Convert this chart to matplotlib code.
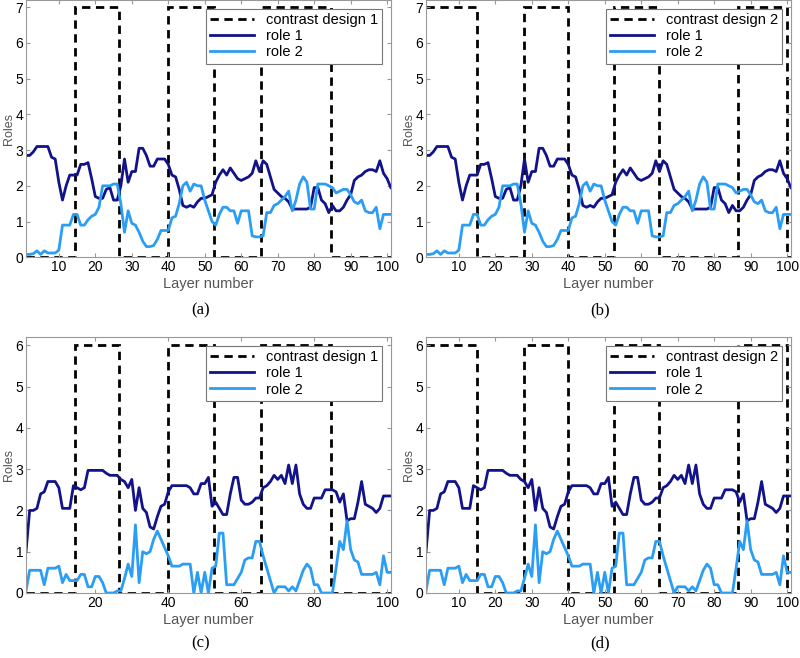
import numpy as np
import matplotlib.pyplot as plt

plt.rcParams['font.family'] = ['Liberation Sans', 'DejaVu Sans']

layers = np.arange(1, 102)

# role curves, top panels (a) and (b)
role1_top = [2.85, 2.85, 2.95, 3.1, 3.1, 3.1, 3.1, 2.8, 2.75, 2.1,
             1.6, 2.0, 2.3, 2.3, 2.3, 2.6, 2.6, 2.65, 2.2, 1.7,
             1.65, 1.65, 1.9, 1.95, 1.6, 1.6, 2.0, 2.75, 2.1, 2.4,
             2.4, 3.05, 3.05, 2.85, 2.55, 2.55, 2.75, 2.75, 2.75, 2.6,
             2.3, 2.25, 1.9, 1.45, 1.4, 1.45, 1.4, 1.55, 1.65, 1.65,
             1.7, 1.75, 2.1, 2.3, 2.45, 2.3, 2.5, 2.35, 2.2, 2.15,
             2.2, 2.25, 2.35, 2.7, 2.4, 2.7, 2.6, 2.25, 1.9, 1.8,
             1.7, 1.65, 1.55, 1.35, 1.35, 1.35, 1.35, 1.35, 1.4, 1.95,
             1.95, 1.6, 1.5, 1.25, 1.45, 1.3, 1.3, 1.4, 1.6, 1.75,
             2.15, 2.25, 2.3, 2.4, 2.45, 2.45, 2.4, 2.7, 2.35, 2.2,
             1.95]
role2_top = [0.08, 0.08, 0.1, 0.18, 0.08, 0.18, 0.12, 0.12, 0.12, 0.2,
             0.9, 0.9, 0.9, 1.2, 1.2, 0.9, 0.9, 1.05, 1.15, 1.2,
             1.4, 2.0, 2.0, 2.0, 2.05, 2.05, 1.5, 0.7, 1.3, 0.95,
             0.9, 0.7, 0.45, 0.3, 0.3, 0.33, 0.5, 0.75, 0.75, 0.75,
             1.1, 1.15, 1.5, 2.0, 2.1, 1.85, 2.05, 2.0, 2.0, 1.6,
             1.3, 1.0, 0.9, 1.2, 1.4, 1.4, 1.3, 1.3, 0.95, 1.3,
             1.3, 1.3, 0.6, 0.57, 0.57, 0.6, 1.25, 1.25, 1.45, 1.5,
             1.6, 1.7, 1.85, 1.3, 1.6, 2.05, 2.25, 2.1, 1.35, 1.35,
             2.05, 2.05, 2.05, 2.0, 1.95, 1.8, 1.85, 1.9, 1.9, 1.75,
             1.55, 1.5, 1.6, 1.3, 1.25, 1.25, 1.4, 0.8, 1.2, 1.2,
             1.2]

# role curves, bottom panels (c) and (d)
role1_bottom = [1.0, 2.0, 2.0, 2.05, 2.4, 2.45, 2.7, 2.7, 2.7, 2.55,
                2.05, 2.05, 2.05, 2.6, 2.55, 2.5, 2.55, 2.97, 2.97, 2.97,
                2.97, 2.97, 2.9, 2.85, 2.85, 2.85, 2.75, 2.7, 2.55, 2.75,
                2.0, 2.55, 2.05, 1.95, 1.6, 1.55, 1.85, 2.1, 2.15, 2.45,
                2.6, 2.6, 2.6, 2.6, 2.6, 2.55, 2.4, 2.4, 2.65, 2.65,
                2.8, 2.1, 2.2, 2.05, 1.9, 1.9, 2.4, 2.8, 2.8, 2.25,
                2.15, 2.15, 2.2, 2.3, 2.3, 2.55, 2.6, 2.7, 2.85, 2.75,
                2.85, 2.65, 3.1, 2.65, 3.1, 2.4, 2.15, 2.05, 2.05, 2.3,
                2.3, 2.3, 2.5, 2.5, 2.5, 2.45, 2.2, 2.4, 1.75, 1.8,
                1.8, 2.2, 2.7, 2.15, 2.1, 2.05, 1.95, 2.05, 2.35, 2.35,
                2.35]
role2_bottom = [0.05, 0.55, 0.55, 0.55, 0.55, 0.2, 0.6, 0.6, 0.6, 0.65,
                0.25, 0.45, 0.3, 0.3, 0.3, 0.45, 0.45, 0.15, 0.15, 0.4,
                0.4, 0.25, 0.0, 0.0, 0.0, 0.05, 0.05, 0.35, 0.7, 0.4,
                1.65, 0.25, 1.0, 0.95, 1.0, 1.3, 1.5, 1.3, 1.1, 0.9,
                0.65, 0.65, 0.65, 0.7, 0.7, 0.7, 0.0, 0.5, 0.0, 0.5,
                0.0, 0.6, 0.65, 1.45, 1.45, 0.2, 0.2, 0.2, 0.35, 0.5,
                0.8, 0.85, 0.85, 1.25, 1.25, 0.9, 0.6, 0.3, 0.0, 0.15,
                0.15, 0.15, 0.05, 0.15, 0.05, 0.3, 0.55, 0.7, 0.6, 0.2,
                0.2, 0.0, 0.0, 0.0, 0.0, 0.6, 1.25, 1.05, 1.75, 1.05,
                0.8, 0.75, 0.45, 0.45, 0.45, 0.45, 0.5, 0.2, 0.9, 0.5,
                0.5]

# contrast designs as on/off blocks
design1_edges = [1, 14.5, 26.5, 40, 52.5, 65.5, 84.5, 101]
design1_on = [0, 1, 0, 1, 0, 1, 0]
design2_edges = [1, 15, 28, 40, 52.5, 65, 86.5, 100, 101]
design2_on = [1, 0, 1, 0, 1, 0, 1, 0]

panels = [
    ('(a)', 7, design1_edges, design1_on, 'contrast design 1', role1_top, role2_top, range(10, 101, 10)),
    ('(b)', 7, design2_edges, design2_on, 'contrast design 2', role1_top, role2_top, range(10, 101, 10)),
    ('(c)', 6, design1_edges, design1_on, 'contrast design 1', role1_bottom, role2_bottom, range(20, 101, 20)),
    ('(d)', 6, design2_edges, design2_on, 'contrast design 2', role1_bottom, role2_bottom, range(10, 101, 10)),
]
positions = [[0.0325, 0.609, 0.456, 0.391],
             [0.5325, 0.609, 0.456, 0.391],
             [0.0325, 0.0988, 0.456, 0.389],
             [0.5325, 0.0988, 0.456, 0.389]]
caption_y = [0.528, 0.528, 0.022, 0.022]

fig = plt.figure(figsize=(8, 6.58), dpi=100)
for (cap, h, edges, on, dname, r1, r2, xt), pos, cy in zip(panels, positions, caption_y):
    ax = fig.add_axes(pos)
    ax.stairs(np.array(on) * h, edges, baseline=None, color='black', lw=2,
              linestyle=(0, (3, 2)), label=dname)
    ax.plot(layers, r1, color='#12128a', lw=2, label='role 1')
    ax.plot(layers, r2, color='#2a9df4', lw=2, label='role 2')
    ax.set_xlim(1, 101)
    ax.set_ylim(0, h + 0.2)
    ax.set_xticks(list(xt))
    ax.set_yticks(range(0, h + 1))
    ax.tick_params(direction='in', top=True, right=True, labelsize=10,
                   color='#999999', length=3, pad=2)
    for s in ax.spines.values():
        s.set_color('#999999')
    ax.set_xlabel('Layer number', fontsize=10.5, color='#555555', labelpad=2)
    ax.set_ylabel('Roles', fontsize=9, color='#555555')
    ax.yaxis.set_label_coords(-0.031, 0.5)
    leg = ax.legend(loc='upper right', fontsize=10.5, fancybox=False,
                    framealpha=1, edgecolor='#777777', handlelength=3,
                    borderaxespad=0.6, labelspacing=0.15, borderpad=0.3)
    leg.get_frame().set_linewidth(0.8)
    fig.text(pos[0] + pos[2] / 2 - 0.01, cy, cap, ha='center', va='center',
             fontsize=12, family='Liberation Serif')

fig.savefig('out.png', dpi=100)
